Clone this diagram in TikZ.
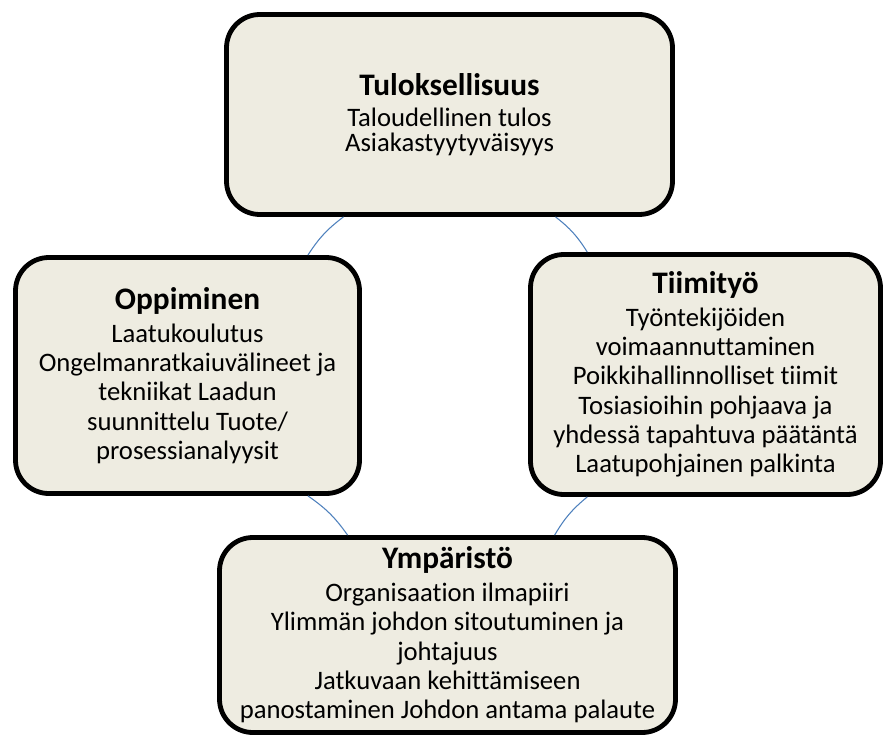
\documentclass[tikz,border=0pt]{standalone}
\usepackage{fontspec}
\setmainfont{Carlito}[Ligatures=NoCommon]
\usetikzlibrary{positioning}
\definecolor{boxfill}{HTML}{EEECE1}
\definecolor{linkblue}{HTML}{4F81BD}
\tikzset{
  cyclebox/.style={draw=black, line width=3.6pt, rounded corners=25pt, fill=boxfill,
    align=center, inner sep=0pt, font=\fontsize{20}{22}\selectfont},
  link/.style={draw=linkblue, line width=0.8pt},
}
\newcommand{\boxtitle}[2][2.5pt]{{\bfseries\fontsize{23.5}{22}\selectfont #2}\\[#1]}

\begin{document}
\begin{tikzpicture}[x=0.75pt, y=-0.75pt]
  \useasboundingbox (0,0) rectangle (885,738);

  \node[cyclebox, minimum width=334.5pt, minimum height=150pt,
    font=\fontsize{20}{18.5}\selectfont] (tulos) at (449.5,114.5)
    {\boxtitle[4.75pt]{Tuloksellisuus}Taloudellinen tulos\\Asiakastyytyväisyys};
  \node[cyclebox, minimum width=258pt, minimum height=177pt] (oppi) at (187.5,375.5)
    {\boxtitle{Oppiminen}Laatukoulutus\\Ongelmanratkaiuvälineet ja\\tekniikat Laadun\\suunnittelu Tuote/\\prosessianalyysit};
  \node[cyclebox, minimum width=262.5pt, minimum height=180pt] (tiimi) at (705.5,374.5)
    {\boxtitle{Tiimityö}Työntekijöiden\\voimaannuttaminen\\Poikkihallinnolliset tiimit\\Tosiasioihin pohjaava ja\\yhdessä tapahtuva päätäntä\\Laatupohjainen palkinta};
  \node[cyclebox, minimum width=342pt, minimum height=146.25pt] (ymp) at (447.5,635)
    {\boxtitle{Ympäristö}Organisaation ilmapiiri\\Ylimmän johdon sitoutuminen ja\\johtajuus\\Jatkuvaan kehittämiseen\\panostaminen Johdon antama palaute};

  % links round the cycle
  \draw[link] (tulos.224) to[bend right=10] (oppi.45);
  \draw[link] (tulos.316) to[bend left=10] (tiimi.134);
  \draw[link] (oppi.315) to[bend left=10] (ymp.135);
  \draw[link] (tiimi.226) to[bend right=10] (ymp.43);
\end{tikzpicture}
\end{document}
